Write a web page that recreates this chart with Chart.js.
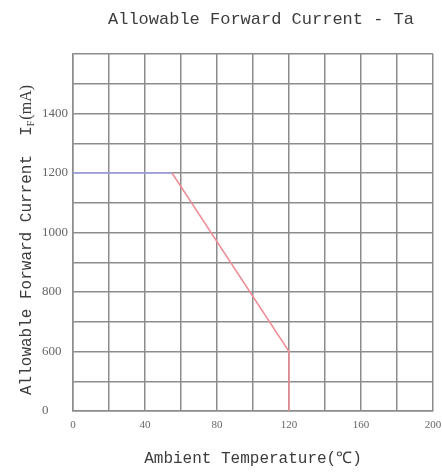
<!DOCTYPE html>
<html>
<head>
<meta charset="utf-8">
<script src="https://cdn.jsdelivr.net/npm/chart.js@4/dist/chart.umd.min.js"></script>
<style>
    html, body { margin: 0; padding: 0; background: #ffffff; }
    #wrap { width: 442px; height: 472px; }
</style>
</head>
<body>
<div id="wrap"><canvas id="chart" width="442" height="472"></canvas></div>
<script>
const CHART_TITLE = 'Allowable Forward Current - Ta';
const X_TITLE = 'Ambient Temperature(\u2103)';

// flat part of the curve (blue) and derating part (red)
const flatTemp = [0, 55];
const flatCurrent = [1200, 1200];
const derateTemp = [55, 120, 120];
const derateCurrent = [1200, 600, 0];

const xTickValues = [0, 40, 80, 120, 160, 200];
// the axis is broken: the bottom gridline stands for 0 mA
const yTickValues = [400, 600, 800, 1000, 1200, 1400];
const yTickLabels = ['0', '600', '800', '1000', '1200', '1400'];

const GRID_COLOR = '#8c8c8c';
const TEXT_COLOR = '#3c3c3c';

const axisTextPlugin = {
    id: 'axisText',
    afterDraw(chart) {
        const ctx = chart.ctx;
        ctx.save();
        ctx.fillStyle = TEXT_COLOR;
        ctx.textBaseline = 'middle';

        ctx.font = '17px "Liberation Mono"';
        ctx.textAlign = 'center';
        ctx.fillText(CHART_TITLE, 261, 19);

        // y title with subscript F
        const mainFont = '16px "Liberation Mono"';
        const subFont = '10px "Liberation Serif"';
        const unitFont = '16px "Liberation Serif"';
        const partA = 'Allowable Forward Current  I';
        const partB = 'F';
        const partC = '(mA)';
        ctx.font = mainFont;
        const wA = ctx.measureText(partA).width;
        ctx.font = subFont;
        const wB = ctx.measureText(partB).width + 1;
        ctx.font = unitFont;
        const wC = ctx.measureText(partC).width;
        const total = wA + wB + wC;

        ctx.translate(27, 240);
        ctx.rotate(-Math.PI / 2);
        ctx.textAlign = 'left';
        let x = -total / 2;
        ctx.font = mainFont;
        ctx.fillText(partA, x, 0);
        x += wA;
        ctx.font = subFont;
        ctx.fillText(partB, x, 4);
        x += wB;
        ctx.font = unitFont;
        ctx.fillText(partC, x, 0);
        ctx.restore();
    }
};

const ctx = document.getElementById('chart');
new Chart(ctx, {
    type: 'line',
    data: {
        datasets: [
            {
                label: 'flat',
                data: flatTemp.map((t, i) => ({ x: t, y: flatCurrent[i] })),
                borderColor: '#a3a3ef',
                borderWidth: 1.5,
                pointRadius: 0,
                tension: 0
            },
            {
                label: 'derating',
                data: derateTemp.map((t, i) => ({ x: t, y: derateCurrent[i] })),
                borderColor: '#ef8c96',
                borderWidth: 1.5,
                pointRadius: 0,
                tension: 0
            }
        ]
    },
    options: {
        responsive: false,
        animation: false,
        layout: {
            padding: { top: 54, left: 42, right: 9, bottom: 0 }
        },
        plugins: {
            legend: { display: false },
            tooltip: { enabled: false }
        },
        scales: {
            x: {
                type: 'linear',
                min: 0,
                max: 200,
                afterFit: (scale) => {
                    scale.height = 61;
                    scale.paddingLeft = 0;
                    scale.paddingRight = 0;
                },
                grid: {
                    color: GRID_COLOR,
                    lineWidth: 1.5,
                    drawTicks: false
                },
                border: { color: GRID_COLOR, width: 1.5 },
                ticks: {
                    stepSize: 20,
                    padding: 8,
                    color: '#666666',
                    font: { family: 'Liberation Serif', size: 11 },
                    callback: (value) => xTickValues.includes(value) ? String(value) : ''
                },
                title: {
                    display: true,
                    text: X_TITLE,
                    color: TEXT_COLOR,
                    font: { family: 'Liberation Mono', size: 16 },
                    padding: { top: 0, bottom: 4 }
                }
            },
            y: {
                type: 'linear',
                min: 400,
                max: 1600,
                afterFit: (scale) => {
                    scale.width = 31;
                    scale.paddingTop = 0;
                    scale.paddingBottom = 0;
                },
                grid: {
                    color: GRID_COLOR,
                    lineWidth: 1.5,
                    drawTicks: false
                },
                border: { color: GRID_COLOR, width: 1.5 },
                ticks: {
                    stepSize: 100,
                    crossAlign: 'far',
                    color: '#666666',
                    font: { family: 'Liberation Serif', size: 13 },
                    callback: (value) => {
                        const idx = yTickValues.indexOf(value);
                        return idx >= 0 ? yTickLabels[idx] : '';
                    }
                }
            }
        }
    },
    plugins: [axisTextPlugin]
});
</script>
</body>
</html>
